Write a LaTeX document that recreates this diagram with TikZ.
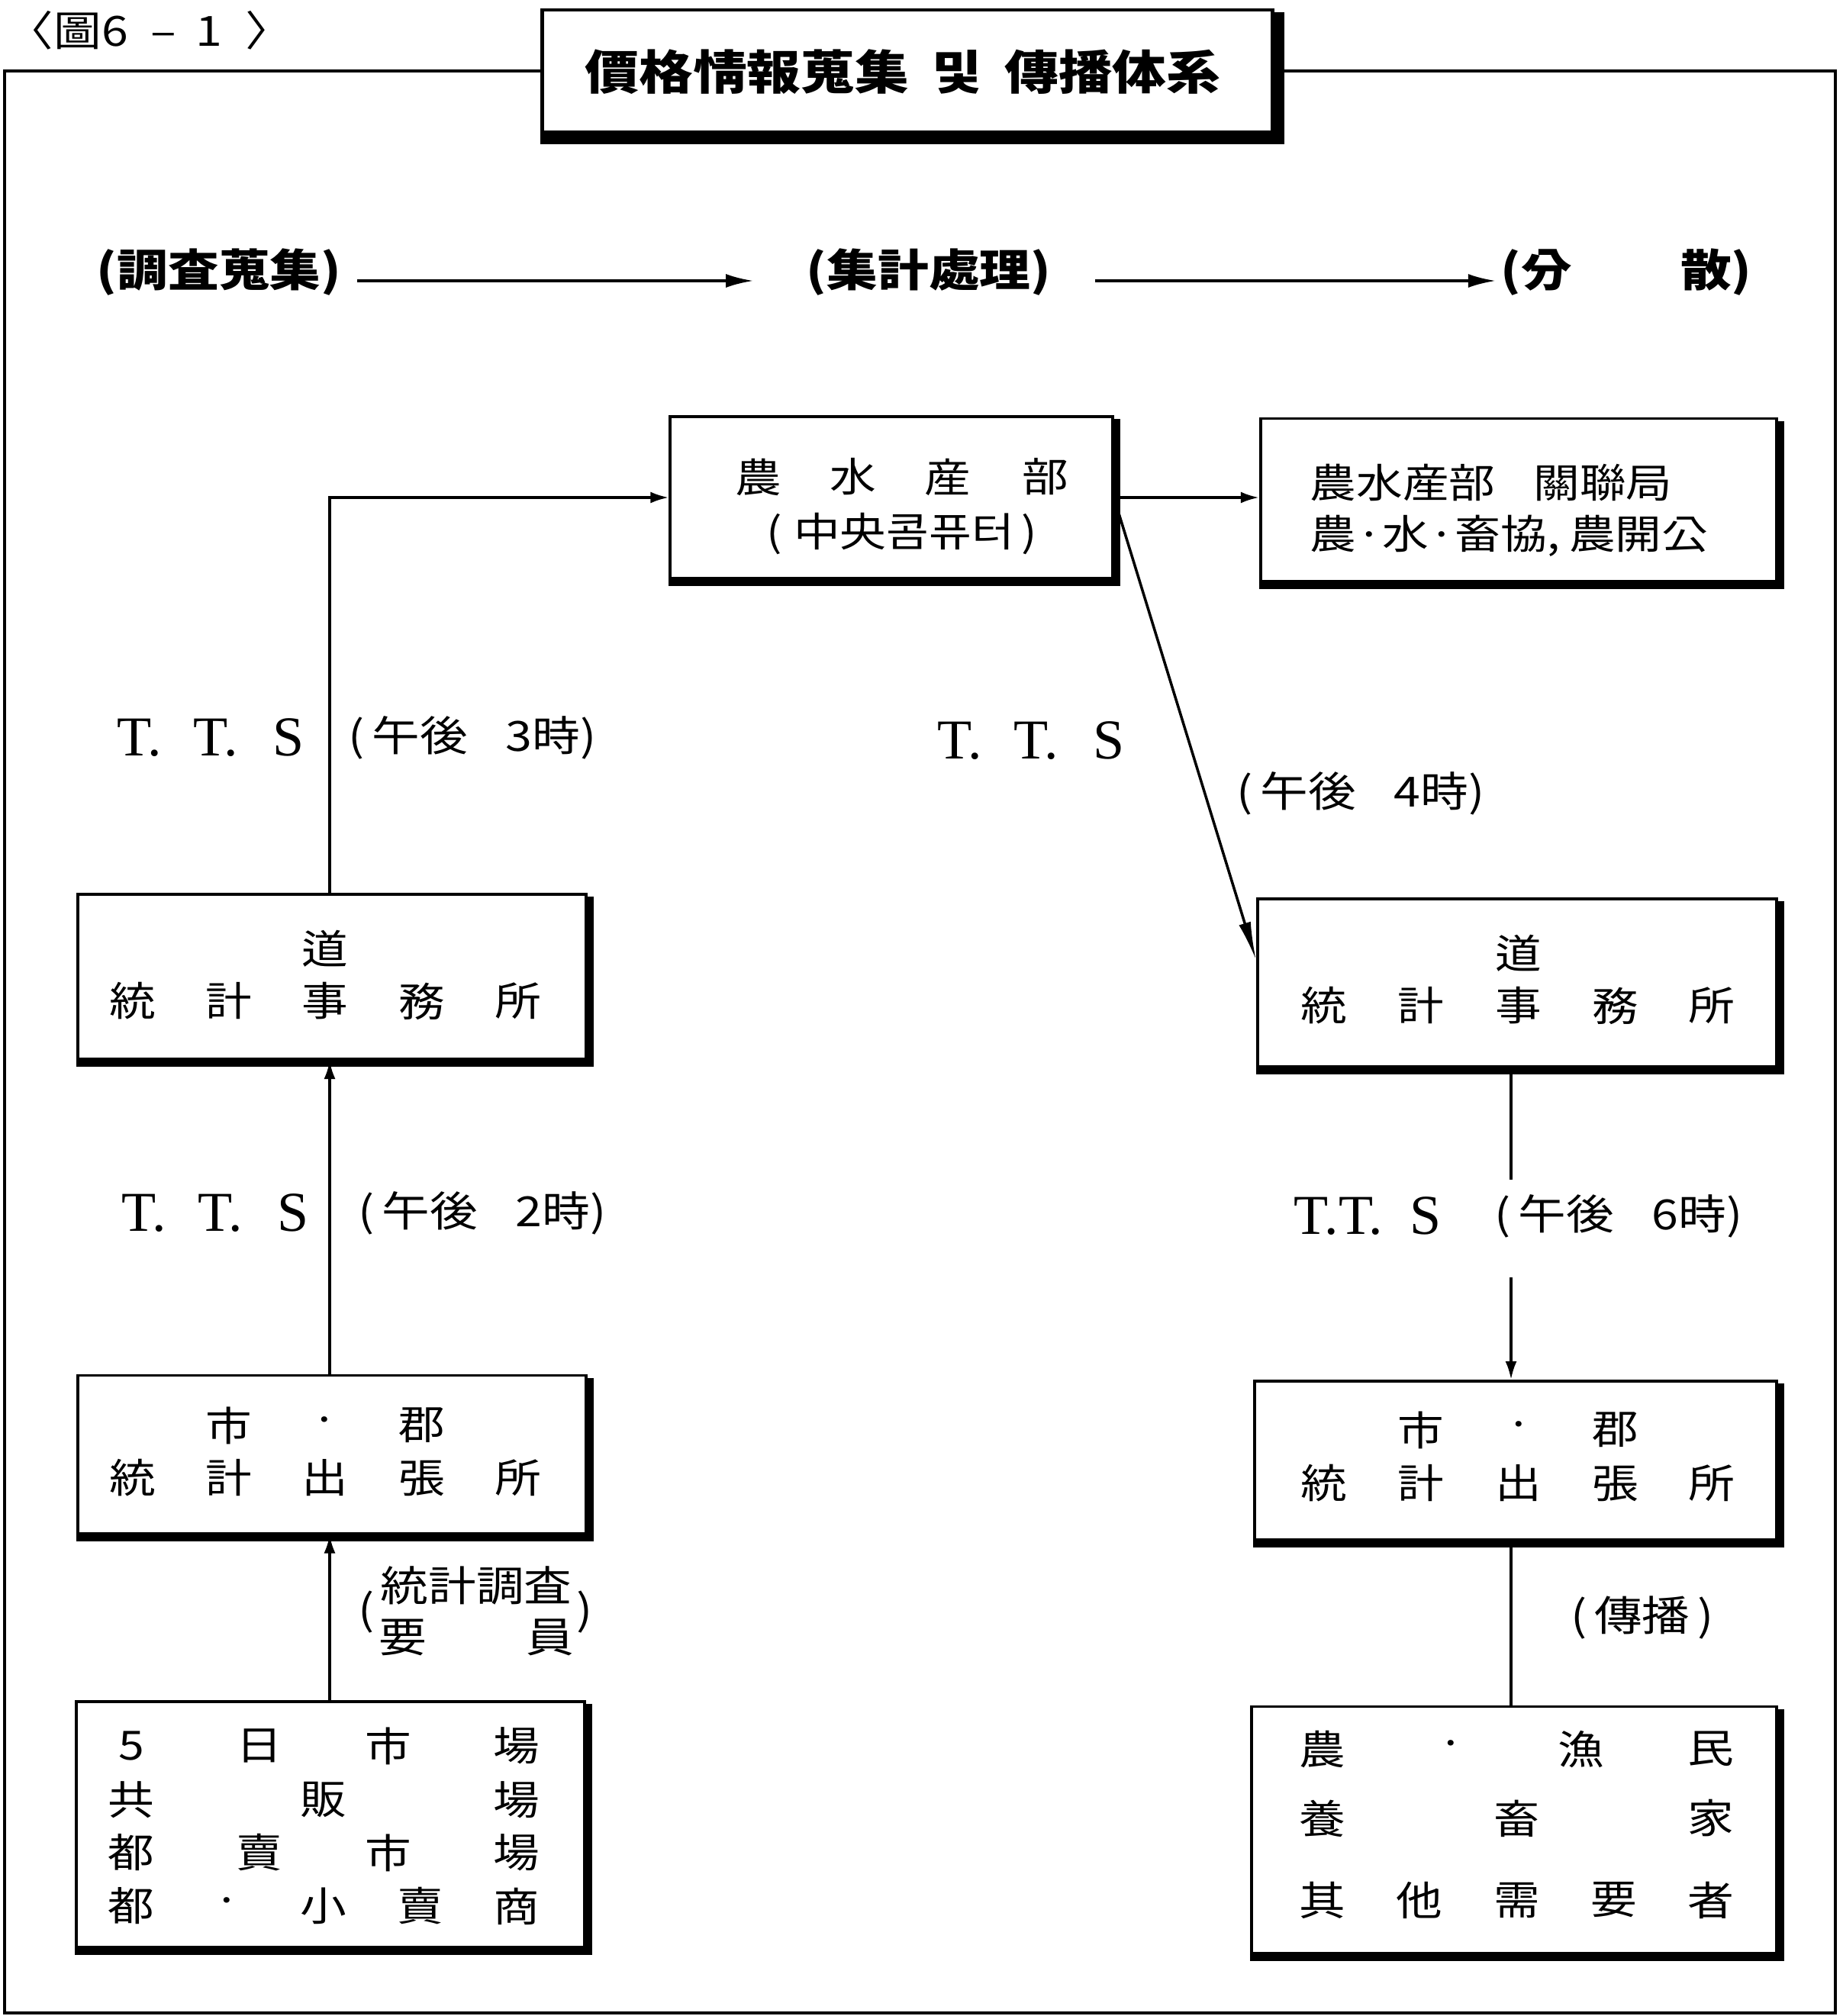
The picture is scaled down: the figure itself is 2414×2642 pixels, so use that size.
\documentclass[tikz,border=0pt]{standalone}
\usepackage{fontspec}
\usetikzlibrary{arrows.meta}
\newfontfamily\kr{Noto Sans CJK KR}[FakeStretch=1.15]
\newfontfamily\krn{Noto Sans CJK KR}
\newfontfamily\serifL{Liberation Serif}
\newcommand\myfs[1]{\fontsize{#1}{#1}\selectfont}
\tikzset{
  box/.style={draw, line width=1.1pt, inner sep=0pt},
  bt/.style={font=\kr\myfs{15pt}, inner sep=0pt},
  lab/.style={font=\kr\bfseries\myfs{16.5pt}, inner sep=0pt},
  tl/.style={font=\kr\myfs{15.5pt}, inner sep=0pt},
  tts/.style={font=\serifL\myfs{21pt}, inner sep=0pt},
  conn/.style={line width=1pt},
  arr/.style={conn, -{Latex[length=0.24cm,width=0.15cm]}},
  arrbig/.style={conn, -{Latex[length=0.36cm,width=0.18cm]}},
  arrlong/.style={conn, -{Latex[length=0.5cm,width=0.16cm]}},
  shade/.style={line width=2.4pt},
  framel/.style={line width=1.1pt}
}
\newcommand\boxshadow[2]{\draw[shade,line width=#2]
  ([yshift=-0.04cm]#1.south west) -- ([xshift=0.04cm,yshift=-0.04cm]#1.south east)
  -- ([xshift=0.04cm,yshift=-0.05cm]#1.north east);}
\begin{document}
\begin{tikzpicture}[x=0.01cm,y=-0.01cm]
\useasboundingbox (0,0) rectangle (2414,2642);

% caption
\node[font=\kr\myfs{15.5pt}, inner sep=0pt] (cap) at (196,40) {〈圖6\hspace{0.3cm}–\hspace{0.25cm}1\hspace{0.3cm}〉};

% title box
\node[box, line width=1.3pt, minimum width=9.56cm, minimum height=1.60cm] (title) at (1189,93) {};
\node[font=\kr\bfseries\myfs{17.5pt}, inner sep=0pt] (titletxt) at (1183,94) {價格情報蒐集\hspace{0.3cm}및\hspace{0.3cm}傳播体系};
\draw[line width=4pt]
  ([yshift=-0.07cm]title.south west) -- ([xshift=0.06cm,yshift=-0.07cm]title.south east)
  -- ([xshift=0.06cm,yshift=-0.05cm]title.north east);

% outer frame
\draw[framel] (title.west) -| (6,2638) -- (2405,2638) |- (title.east);

% top row
\node[lab] (lab1) at (287,357) {(調査蒐集)};
\node[lab] (lab2) at (1217,357) {(集計處理)};
\node[lab] (lab3) at (2131,357) {(分\hspace{1.42cm}散)};
\draw[arrbig, shorten <=0.2cm, shorten >=0.69cm] ([yshift=-0.11cm]lab1.east) -- ([yshift=-0.11cm]lab2.west);
\draw[arrbig, shorten <=0.57cm, shorten >=0.06cm] ([yshift=-0.11cm]lab2.east) -- ([yshift=-0.11cm]lab3.west);

% boxes
\node[box, minimum width=5.79cm, minimum height=2.12cm] (nsb) at (1168,652) {};
\node[box, minimum width=6.76cm, minimum height=2.13cm] (rtop) at (1990,655) {};
\node[box, minimum width=6.66cm, minimum height=2.16cm] (dL) at (435,1280) {};
\node[box, minimum width=6.80cm, minimum height=2.20cm] (dR) at (1988,1288) {};
\node[box, minimum width=6.66cm, minimum height=2.07cm] (sL) at (435,1906) {};
\node[box, minimum width=6.83cm, minimum height=2.08cm] (sR) at (1986,1914) {};
\node[box, minimum width=6.66cm, minimum height=3.22cm] (bL) at (433,2391) {};
\node[box, minimum width=6.88cm, minimum height=3.23cm] (bR) at (1984,2398) {};
\foreach \b in {nsb,rtop,dL,dR,sL,sR,bL,bR} {\boxshadow{\b}{2.4pt}}

% texts in nsb
\foreach \c/\x [count=\i] in {農/994,水/1118,産/1242,部/1370}
  \node[bt] (nsb-a\i) at (\x,625) {\c};
\node[bt] (nsb-b) at (1182,700) {(\hspace{0.15cm}中央콤퓨터\hspace{0.1cm})};

% texts in rtop
\node[bt, anchor=west] (rtop-a) at (1716,632) {農水産部\hspace{0.5cm}關聯局};
\node[bt, anchor=west] (rtop-b) at (1716,702) {農·水·畜協,\hspace{0.12cm}農開公};

% 道 boxes
\node[bt] (dL-a) at (426,1243) {道};
\foreach \c/\x [count=\i] in {統/174,計/300,事/426,務/553,所/679}
  \node[bt] (dL-b\i) at (\x,1312) {\c};
\node[bt] (dR-a) at (1990,1249) {道};
\foreach \c/\x [count=\i] in {統/1735,計/1862,事/1990,務/2117,所/2243}
  \node[bt] (dR-b\i) at (\x,1318) {\c};

% 市郡 boxes
\foreach \c/\x [count=\i] in {市/300,·/426,郡/553}
  \node[bt] (sL-a\i) at (\x,1868) {\c};
\foreach \c/\x [count=\i] in {統/174,計/300,出/426,張/553,所/679}
  \node[bt] (sL-b\i) at (\x,1937) {\c};
\foreach \c/\x [count=\i] in {市/1862,·/1990,郡/2117}
  \node[bt] (sR-a\i) at (\x,1874) {\c};
\foreach \c/\x [count=\i] in {統/1735,計/1862,出/1990,張/2117,所/2243}
  \node[bt] (sR-b\i) at (\x,1944) {\c};

% bottom left box
\foreach \c/\x [count=\i] in {5/172,日/340,市/509,場/677}
  \node[bt] (bL-a\i) at (\x,2288) {\c};
\foreach \c/\x [count=\i] in {共/172,販/424,場/677}
  \node[bt] (bL-b\i) at (\x,2359) {\c};
\foreach \c/\x [count=\i] in {都/172,賣/340,市/509,場/677}
  \node[bt] (bL-c\i) at (\x,2428) {\c};
\foreach \c/\x [count=\i] in {都/172,·/298,小/424,賣/551,商/677}
  \node[bt] (bL-d\i) at (\x,2498) {\c};

% bottom right box
\foreach \c/\x [count=\i] in {農/1733,·/1901,漁/2072,民/2242}
  \node[bt] (bR-a\i) at (\x,2292) {\c};
\foreach \c/\x [count=\i] in {養/1733,畜/1988,家/2242}
  \node[bt] (bR-b\i) at (\x,2383) {\c};
\foreach \c/\x [count=\i] in {其/1733,他/1860,需/1988,要/2115,者/2242}
  \node[bt] (bR-c\i) at (\x,2490) {\c};

% labels
\node[tts] (t1) at (276,967) {T.\hspace{0.42cm}T.\hspace{0.45cm}S};
\node[tl] (t1b) at (619,967) {(\hspace{0.1cm}午後\hspace{0.5cm}3時)};
\node[tts] (t2) at (1351,971) {T.\hspace{0.42cm}T.\hspace{0.45cm}S};
\node[tl] (t2b) at (1783,1040) {(\hspace{0.1cm}午後\hspace{0.5cm}4時)};
\node[tts] (t3) at (282,1590) {T.\hspace{0.42cm}T.\hspace{0.45cm}S};
\node[tl] (t3b) at (632,1590) {(\hspace{0.1cm}午後\hspace{0.5cm}2時)};
\node[tts] (t4) at (1792,1594) {T.T.\hspace{0.35cm}S};
\node[tl] (t4b) at (2121,1594) {(\hspace{0.1cm}午後\hspace{0.5cm}6時)};
\node[tl] (t5a) at (624,2078) {統計調査};
\node[tl] (t5b) at (624,2146) {要\hspace{1.3cm}員};
\node[tl] (t5l) at (480,2113) {(};
\node[tl] (t5r) at (766,2113) {)};
\node[tl] (t6) at (2152,2120) {(\hspace{0.1cm}傳播\hspace{0.1cm})};

% connectors
\draw[arr] (sL.north -| 432,0) -- (dL.south -| 432,0);
\draw[arr] (dL.north -| 432,0) |- (nsb.west);
\draw[arr] (bL.north -| 432,0) -- (sL.south -| 432,0);
\draw[arr] (nsb.east) -- (nsb.east -| rtop.west);
\draw[arrlong] (nsb.east) -- ([yshift=0.3cm]dR.west);
\draw[conn] (dR.south -| 1980,0) -- ++(0,146);
\draw[arr] ([yshift=1.34cm]sR.north -| 1980,0) -- (sR.north -| 1980,0);
\draw[conn] (sR.south -| 1980,0) -- (bR.north -| 1980,0);
\end{tikzpicture}
\end{document}
